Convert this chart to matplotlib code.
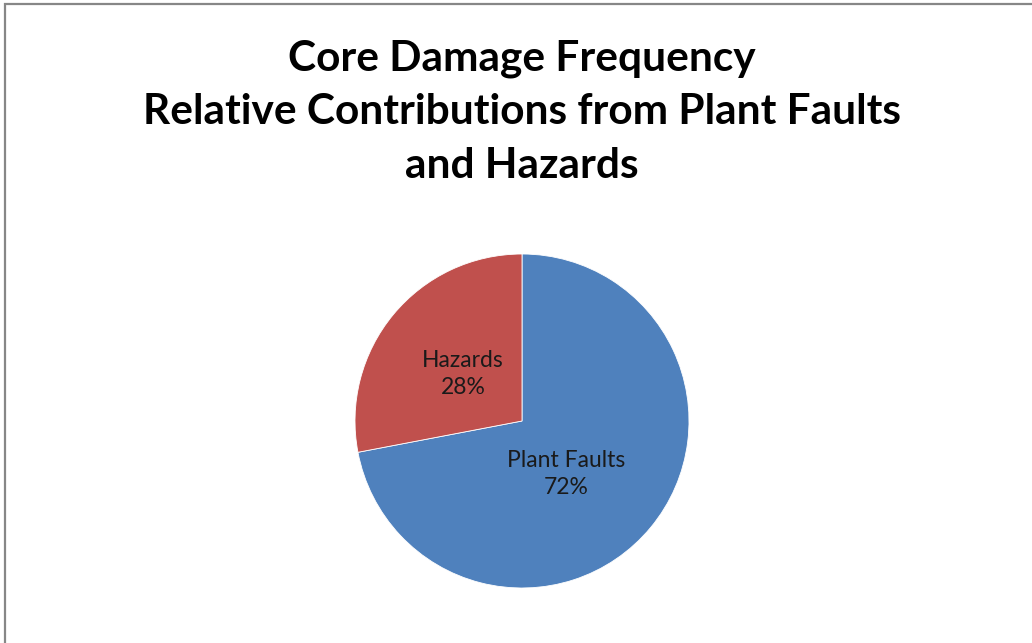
import matplotlib
matplotlib.use("Agg")
import matplotlib.pyplot as plt
from matplotlib.patches import Rectangle

categories = ["Plant Faults", "Hazards"]
values = [72, 28]
colors = ["#4F81BD", "#C0504D"]
title = "Core Damage Frequency\nRelative Contributions from Plant Faults\nand Hazards"

W, H = 1032, 643
fig = plt.figure(figsize=(W / 100, H / 100), dpi=100)
fig.patch.set_facecolor("white")

# chart area border (top and left visible)
fig.add_artist(Rectangle((5 / W, -0.1), 1.2, (H - 4) / H + 0.1, transform=fig.transFigure,
                         fill=False, edgecolor="#878787", linewidth=1.6))

cx, cy, r = 522, 421, 167
ax = fig.add_axes([(cx - r) / W, (H - cy - r) / H, 2 * r / W, 2 * r / H])
wedges, texts = ax.pie(values, colors=colors, startangle=90, counterclock=False,
                       wedgeprops=dict(edgecolor="white", linewidth=0.6))
ax.set_xlim(-1, 1)
ax.set_ylim(-1, 1)
ax.set_aspect("equal")
ax.axis("off")

label_pos = [(0.265, -0.317), (-0.353, 0.283)]
for cat, v, (lx, ly) in zip(categories, values, label_pos):
    ax.text(lx, ly, f"{cat}\n{v}%", ha="center", va="center", fontsize=16.5,
            family="Lato", color="#1a1a1a", linespacing=1.38)

fig.text(522 / W, 1 - 112 / H, title, ha="center", va="center", fontsize=30.5,
         family="Lato", fontweight="bold", linespacing=1.5)

fig.savefig("out.png", dpi=100)
